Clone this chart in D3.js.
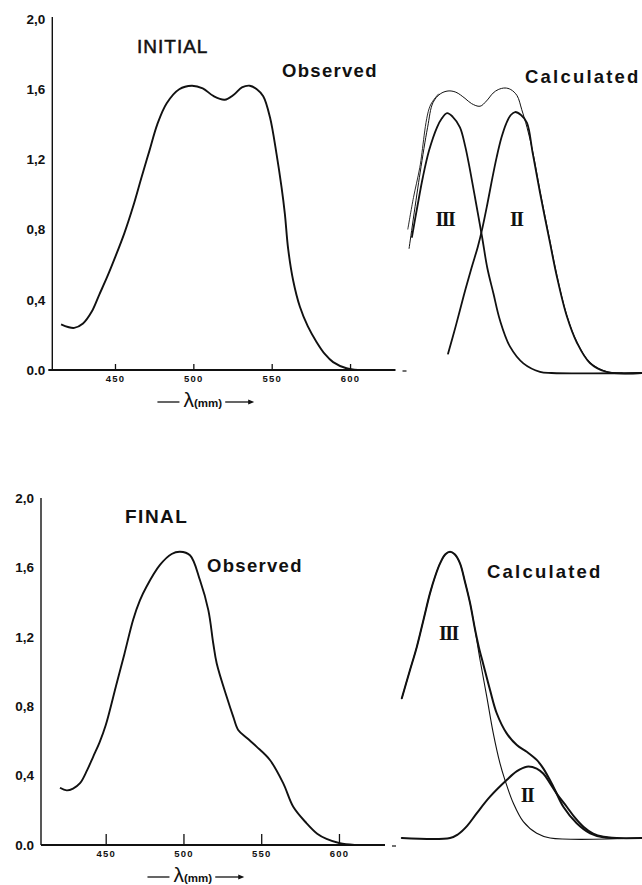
<!DOCTYPE html>
<html>
<head>
<meta charset="utf-8">
<script src="https://cdn.jsdelivr.net/npm/d3@7"></script>
<style>
  html, body { margin: 0; padding: 0; background: #fff; }
  svg { display: block; }
</style>
</head>
<body>
<svg id="chart" width="642" height="885"></svg>
<script>
// ---------------- DATA ----------------
const xTickValues = [450, 500, 550, 600];
const yTickValues = [0, 0.4, 0.8, 1.2, 1.6, 2.0];
const yTickLabels = ["0.0", "0,4", "0,8", "1,2", "1,6", "2,0"];

// INITIAL – observed spectrum  [wavelength nm, absorbance]
const initialObserved = [
  [415.6,0.26],[420,0.245],[424,0.24],[429.6,0.265],[435,0.33],[440,0.43],[445,0.53],[450,0.64],
  [456,0.78],[461.5,0.93],[467,1.10],[472,1.25],[477,1.40],[483,1.52],[491,1.60],[499,1.62],
  [506,1.605],[513,1.56],[520,1.54],[526,1.57],[531,1.61],[536,1.62],[540.5,1.60],[544.6,1.56],
  [548.9,1.44],[553.1,1.23],[556.3,1.04],[558.4,0.89],[560.5,0.69],[563.7,0.51],[568,0.36],
  [573,0.25],[578.6,0.16],[584,0.09],[589.2,0.045],[597.7,0.01],[605,0]
];
// INITIAL – calculated sum and components
const initialCalcSum = [
  [474.2,0.71],[481.2,1.14],[486,1.40],[489.4,1.54],[494,1.59],[499,1.607],[504,1.60],[509.8,1.565],
  [514,1.535],[519.4,1.52],[523.5,1.55],[527.7,1.595],[531,1.615],[535.3,1.624],[539,1.615],[543,1.58],
  [546,1.50],[549.3,1.40],[553,1.26],[557.6,1.04],[564,0.75],[568.4,0.555],[574.8,0.325],[581.2,0.175],
  [589.4,0.06],[600,0.008],[610,0]
];
const initialCalcSumTrace = [[473.4,0.82],[477,1.0],[481,1.17],[487.5,1.52],[493,1.59]];
const initialBandIII = [
  [476,0.775],[479.5,0.95],[483,1.117],[487,1.27],[492,1.40],[495,1.45],[498.4,1.481],[502,1.46],
  [506.6,1.40],[510,1.29],[513,1.157],[516.8,0.97],[520.7,0.775],[524,0.60],[527.9,0.454],[532.1,0.30],
  [538.5,0.15],[547,0.055],[557.6,0.007],[565,0],[622,0]
];
const initialBandII = [
  [499,0.11],[504,0.27],[509,0.44],[514,0.60],[518,0.72],[521,0.83],[524,0.96],[527,1.10],
  [530,1.23],[533,1.34],[536,1.42],[539,1.47],[541.7,1.487],[545.5,1.47],[549.3,1.425],[553,1.25],
  [557.6,1.026],[564,0.74],[568.4,0.547],[574.8,0.32],[581.2,0.171],[589.4,0.057],[600,0.006],[622.6,0]
];

// FINAL – observed spectrum
const finalObserved = [
  [420.6,0.33],[424.9,0.315],[429,0.325],[433.5,0.356],[438,0.43],[442,0.51],[446,0.59],[450,0.69],
  [457,0.93],[462,1.10],[467.7,1.30],[472,1.41],[476.3,1.49],[484.9,1.614],[492.4,1.677],[497.8,1.69],
  [504.2,1.67],[510.6,1.527],[516,1.354],[519.2,1.16],[521.4,1.046],[527.8,0.854],[532,0.74],
  [535.2,0.663],[541,0.615],[547,0.567],[555.6,0.49],[564.2,0.355],[570.6,0.22],[579.2,0.125],
  [586,0.065],[592,0.035],[600.6,0.01],[610,0]
];
// FINAL – calculated sum and components
const finalBandIII = [
  [467,0.805],[472,0.96],[476.6,1.10],[481,1.26],[485.1,1.41],[488.5,1.51],[491.6,1.583],[495,1.635],
  [498,1.65],[501,1.635],[504.4,1.583],[507.5,1.48],[510.9,1.353],[514.1,1.199],[517.3,1.026],
  [521.6,0.815],[525.8,0.603],[530.1,0.43],[533.3,0.334],[538.7,0.20],[545.1,0.094],[553.7,0.027],
  [562.3,0],[621,0]
];
const finalCalcSum = [
  [467,0.805],[472,0.96],[476.6,1.10],[481,1.26],[485.1,1.41],[488.5,1.51],[491.6,1.583],[495,1.635],
  [498,1.65],[501,1.635],[504.4,1.583],[507.5,1.48],[510.9,1.353],[514.1,1.20],[516.5,1.10],[519.4,1.0],
  [523.7,0.853],[528,0.719],[534.4,0.603],[540.9,0.536],[547.3,0.497],[553.7,0.45],[558,0.40],
  [564.4,0.296],[570.8,0.18],[579.4,0.085],[588,0.027],[596.5,0.004],[605,0]
];
const finalBandII = [
  [467,0],[498,0],[503,0.02],[509,0.07],[515.1,0.142],[523.7,0.238],[534.4,0.334],[541,0.385],
  [547.3,0.411],[553.7,0.40],[558,0.37],[562.3,0.315],[567,0.25],[573,0.18],[578,0.12],[583.7,0.065],
  [590,0.025],[596.6,0.007],[605,0],[621,0]
];

// ---------------- DRAWING ----------------
const svg = d3.select("#chart");
const INK = "#111";
const sans = "'Liberation Sans', Arial, Helvetica, sans-serif";
const serif = "'Liberation Serif', 'Times New Roman', serif";

const panels = [
  {
    title: "INITIAL", titleWeight: "normal", titlePos: [137, 53],
    obsLabelPos: [282, 77], calcLabelPos: [525, 83],
    x: d3.scaleLinear().domain([410, 629]).range([52.3, 395.5]),
    y: d3.scaleLinear().domain([0, 2]).range([370, 19]),
    xc: d3.scaleLinear().domain([470, 625]).range([402.5, 645.8]),
    yc: d3.scaleLinear().domain([0, 2]).range([373, 22]),
    yAxisTop: 17, axisLeftExt: 4, tickUp: 6,
    observed: initialObserved,
    calc: [
      {data: initialCalcSum, w: 1.0},
      {data: initialCalcSumTrace, w: 0.9},
      {data: initialBandIII, w: 1.8},
      {data: initialBandII, w: 1.8}
    ],
    romans: [{t: "III", l: 497, v: 0.84}, {t: "II", l: 542.5, v: 0.84}]
  },
  {
    title: "FINAL", titleWeight: "bold", titlePos: [125, 523],
    obsLabelPos: [207, 572], calcLabelPos: [487, 578],
    x: d3.scaleLinear().domain([408.4, 629.6]).range([41, 385]),
    y: d3.scaleLinear().domain([0, 2]).range([845, 498]),
    xc: d3.scaleLinear().domain([467, 622]).range([401.8, 643]),
    yc: d3.scaleLinear().domain([0, 2]).range([838, 491]),
    yAxisTop: 498, axisLeftExt: 0, tickUp: 11,
    observed: finalObserved,
    calc: [
      {data: finalBandIII, w: 1.1},
      {data: finalCalcSum, w: 2.0},
      {data: finalBandII, w: 2.0}
    ],
    romans: [{t: "III", l: 497, v: 1.14}, {t: "II", l: 547.5, v: 0.21}]
  }
];

panels.forEach(p => {
  const g = svg.append("g");
  const y0 = p.y(0);

  // y axis
  const yAxis = d3.axisLeft(p.y)
    .tickValues(yTickValues)
    .tickFormat((d, i) => yTickLabels[i])
    .tickSize(0).tickPadding(7);
  const ya = g.append("g").attr("transform", `translate(${p.x.range()[0]},0)`).call(yAxis);
  ya.select(".domain").remove();
  ya.selectAll("text")
    .attr("font-family", sans).attr("font-weight", "bold")
    .attr("font-size", 13.5).attr("fill", INK);
  g.append("line")
    .attr("x1", p.x.range()[0]).attr("x2", p.x.range()[0])
    .attr("y1", p.yAxisTop).attr("y2", y0)
    .attr("stroke", INK).attr("stroke-width", 1.4);

  // x axis
  const xAxis = d3.axisBottom(p.x)
    .tickValues(xTickValues)
    .tickSizeInner(-p.tickUp).tickSizeOuter(0).tickPadding(5);
  const xa = g.append("g").attr("transform", `translate(0,${y0})`).call(xAxis);
  xa.select(".domain").remove();
  xa.selectAll(".tick line").attr("stroke", INK).attr("stroke-width", 1.3);
  xa.selectAll("text")
    .attr("font-family", sans).attr("font-weight", "bold")
    .attr("font-size", 9.5).attr("letter-spacing", 1.2).attr("fill", INK);
  g.append("line")
    .attr("x1", p.x.range()[0] - p.axisLeftExt).attr("x2", p.x.range()[1])
    .attr("y1", y0).attr("y2", y0)
    .attr("stroke", INK).attr("stroke-width", 1.8);
  g.append("line")
    .attr("x1", p.x.range()[1] + 7).attr("x2", p.x.range()[1] + 11)
    .attr("y1", y0 + 1).attr("y2", y0 + 1)
    .attr("stroke", INK).attr("stroke-width", 1.2);

  // wavelength label
  const lx = p.x(506), ly = y0 + 32;
  const lab = g.append("text")
    .attr("x", lx).attr("y", ly + 5)
    .attr("text-anchor", "middle")
    .attr("font-family", sans).attr("fill", INK);
  lab.append("tspan").attr("font-size", 21).text("λ");
  lab.append("tspan").attr("font-size", 11.5).attr("font-weight", "bold").text("(mm)");
  const bb = lab.node().getBBox();
  g.append("line")
    .attr("x1", bb.x - 26).attr("x2", bb.x - 4)
    .attr("y1", ly).attr("y2", ly)
    .attr("stroke", INK).attr("stroke-width", 1.3);
  g.append("line")
    .attr("x1", bb.x + bb.width + 3).attr("x2", bb.x + bb.width + 30)
    .attr("y1", ly).attr("y2", ly)
    .attr("stroke", INK).attr("stroke-width", 1.3);
  g.append("path")
    .attr("d", `M${bb.x + bb.width + 32},${ly} l-6,-2.6 l0,5.2 z`)
    .attr("fill", INK);

  // titles
  g.append("text").attr("x", p.titlePos[0]).attr("y", p.titlePos[1])
    .attr("font-family", sans).attr("font-weight", p.titleWeight)
    .attr("font-size", 19).attr("letter-spacing", p.titleWeight === "bold" ? 1.5 : 1)
    .attr("stroke", INK).attr("stroke-width", p.titleWeight === "bold" ? 0 : 0.5)
    .attr("fill", INK).text(p.title);
  g.append("text").attr("x", p.obsLabelPos[0]).attr("y", p.obsLabelPos[1])
    .attr("font-family", sans).attr("font-weight", "bold")
    .attr("font-size", 18.5).attr("letter-spacing", 1.3)
    .attr("fill", INK).text("Observed");
  g.append("text").attr("x", p.calcLabelPos[0]).attr("y", p.calcLabelPos[1])
    .attr("font-family", sans).attr("font-weight", "bold")
    .attr("font-size", 18.5).attr("letter-spacing", 2.2)
    .attr("fill", INK).text("Calculated");

  // observed curve
  const lineObs = d3.line()
    .x(d => p.x(d[0])).y(d => p.y(d[1]))
    .curve(d3.curveCatmullRom.alpha(0.5));
  g.append("path").datum(p.observed)
    .attr("d", lineObs)
    .attr("fill", "none").attr("stroke", INK)
    .attr("stroke-width", 1.9).attr("stroke-linejoin", "round");

  // calculated curves
  const lineCalc = d3.line()
    .x(d => p.xc(d[0])).y(d => p.yc(d[1]))
    .curve(d3.curveCatmullRom.alpha(0.5));
  p.calc.forEach(c => {
    g.append("path").datum(c.data)
      .attr("d", lineCalc)
      .attr("fill", "none").attr("stroke", INK)
      .attr("stroke-width", c.w).attr("stroke-linejoin", "round")
      .attr("stroke-linecap", "round");
  });

  // band labels
  p.romans.forEach(r => {
    g.append("text")
      .attr("x", p.xc(r.l)).attr("y", p.yc(r.v))
      .attr("text-anchor", "middle")
      .attr("font-family", serif).attr("font-weight", "bold")
      .attr("font-size", 20).attr("letter-spacing", -1.5)
      .attr("fill", INK).text(r.t);
  });
});
</script>
</body>
</html>
